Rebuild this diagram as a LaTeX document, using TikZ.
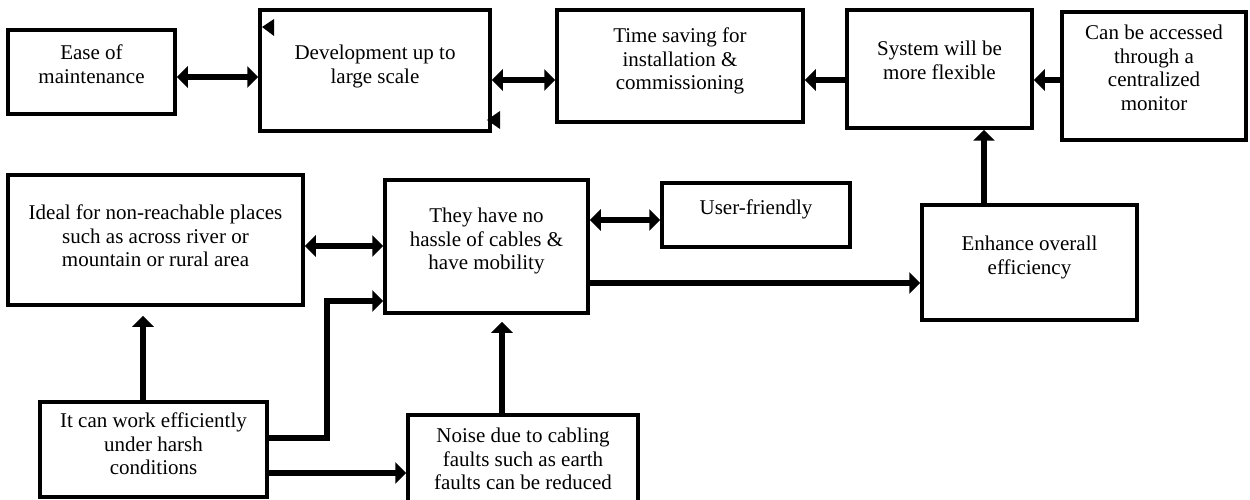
\documentclass[tikz,border=0pt]{standalone}
\usepackage{fontspec}
\setmainfont{Liberation Serif}
\usetikzlibrary{arrows.meta}
\begin{document}
\begin{tikzpicture}[x=1pt,y=-1pt,
  box/.style={draw=black, line width=3.5pt, fill=white},
  txt/.style={font=\fontsize{21}{23.5}\selectfont, align=center, inner sep=0pt, anchor=north},
  arr/.style={line width=6.5pt, -{Triangle[length=11pt,width=21pt]}},
  dbl/.style={line width=6.5pt, {Triangle[length=11pt,width=21pt]}-{Triangle[length=11pt,width=21pt]}}]
\useasboundingbox (0,0) rectangle (1250,500);
\clip (0,0) rectangle (1250,500);
% boxes
\node[box, minimum width=167pt, minimum height=84pt]  (ease)  at (91.5,72)   {};
\node[box, minimum width=230pt, minimum height=121pt] (dev)   at (375,70.5)  {};
\node[box, minimum width=246pt, minimum height=112pt] (time)  at (680,66)    {};
\node[box, minimum width=185pt, minimum height=118pt] (sys)   at (939.5,69)  {};
\node[box, minimum width=184pt, minimum height=128pt] (acc)   at (1154,76)   {};
\node[box, minimum width=295pt, minimum height=130pt] (ideal) at (155.5,240) {};
\node[box, minimum width=203pt, minimum height=133pt] (they)  at (486.5,246.5) {};
\node[box, minimum width=188pt, minimum height=64pt]  (user)  at (756,215)   {};
\node[box, minimum width=215pt, minimum height=115pt] (enh)   at (1029.5,262.5) {};
\node[box, minimum width=227pt, minimum height=95pt]  (work)  at (153.5,449.5) {};
\node[box, minimum width=230pt, minimum height=91pt]  (noise) at (523,460.5) {};
% texts
\node[txt] (easet)  at ([yshift=-15pt]ease.north)  {\strut Ease of\\maintenance};
\node[txt] (devt)   at ([yshift=-35pt]dev.north)   {\strut Development up to\\large scale};
\node[txt] (timet)  at ([yshift=-18pt]time.north)  {\strut Time saving for\\installation \&\\commissioning};
\node[txt] (syst)   at ([yshift=-31pt]sys.north)   {\strut System will be\\more flexible};
\node[txt] (acct)   at ([yshift=-13pt]acc.north)   {\strut Can be accessed\\through a\\centralized\\monitor};
\node[txt] (idealt) at ([yshift=-30pt]ideal.north) {\strut Ideal for non-reachable places\\such as across river or\\mountain or rural area};
\node[txt] (theyt)  at ([yshift=-28pt]they.north)  {\strut They have no\\hassle of cables \&\\have mobility};
\node[txt] (usert)  at ([yshift=-17pt]user.north)  {\strut User-friendly};
\node[txt] (enht)   at ([yshift=-31pt]enh.north)   {\strut Enhance overall\\efficiency};
\node[txt] (workt)  at ([yshift=-11pt]work.north)  {\strut It can work efficiently\\under harsh\\conditions};
\node[txt] (noiset) at ([yshift=-13pt]noise.north) {\strut Noise due to cabling\\faults such as earth\\faults can be reduced};
% connectors
\draw[dbl] ([yshift=-5pt]ease.east) coordinate (c1) -- (c1 -| dev.west);
\draw[dbl] ([yshift=-9.5pt]dev.east) coordinate (c2) -- (c2 -| time.west);
\draw[arr] ([yshift=-11pt]sys.west) coordinate (c3) -- (c3 -| time.east);
\draw[arr] ([yshift=-4pt]acc.west) coordinate (c4) -- (c4 -| sys.east);
\draw[arr] ([xshift=-45.5pt]enh.north) coordinate (c5) -- (c5 |- sys.south);
\draw[dbl] ([yshift=-6pt]ideal.east) coordinate (c6) -- (c6 -| they.west);
\draw[dbl] ([yshift=26.5pt]they.east) coordinate (c7) -- (c7 -| user.west);
\draw[arr] ([yshift=-36.5pt]they.east) coordinate (c8) -- (c8 -| enh.west);
\draw[arr, shorten >=9pt] ([xshift=-10.5pt]work.north) coordinate (c9) -- (c9 |- ideal.south);
\draw[arr] ([yshift=11.5pt]work.east) -- ++(58,0) |- ([yshift=-54.5pt]they.west);
\draw[arr] ([yshift=-23.5pt]work.east) coordinate (c10) -- (c10 -| noise.west);
\draw[arr, shorten >=7pt] ([xshift=-21pt]noise.north) coordinate (c11) -- (c11 |- they.south);
% stray arrowheads
\fill (262,27) -- (274,19) -- (274,36) -- cycle;
\fill (487,120) -- (500,111) -- (500,129) -- cycle;
\end{tikzpicture}
\end{document}
